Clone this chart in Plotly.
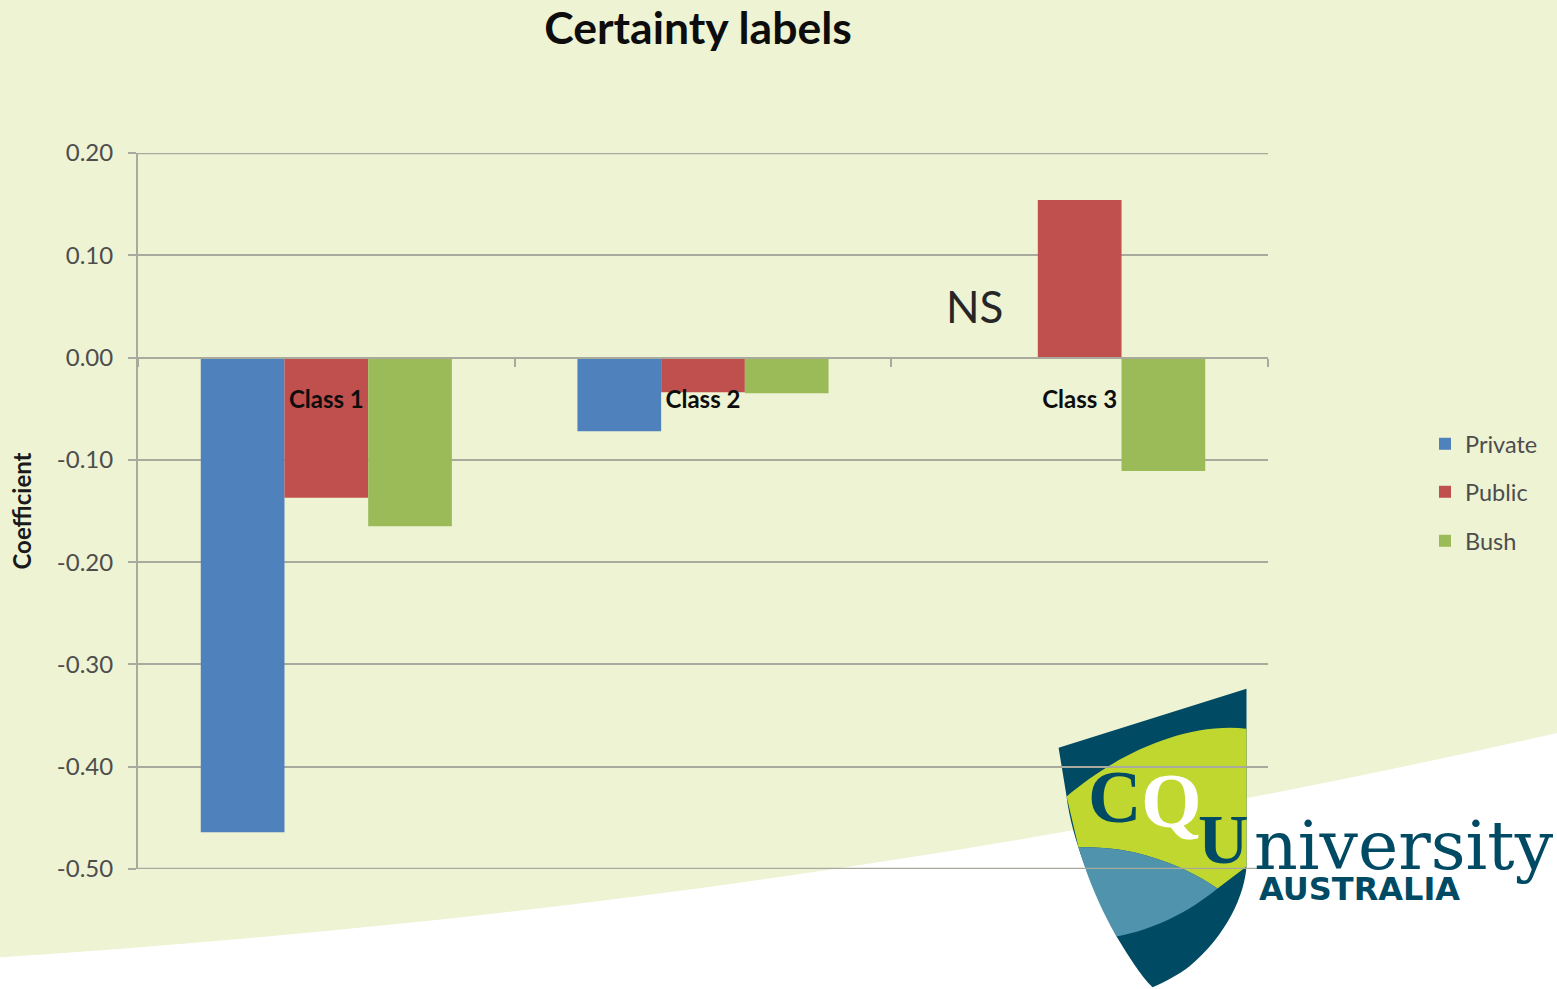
import plotly.graph_objects as go

W, H = 1557, 989
LEFT, RIGHT, TOP, BOTTOM = 138, 1268.5, 152.5, 869.5

classes = ["Class 1", "Class 2", "Class 3"]
private = [-0.464, -0.072, None]
public = [-0.137, -0.034, 0.154]
bush = [-0.165, -0.035, -0.111]
y_ticks = [0.2, 0.1, 0.0, -0.1, -0.2, -0.3, -0.4, -0.5]
y_tick_labels = ["0.20", "0.10", "0.00", "-0.10", "-0.20", "-0.30", "-0.40", "-0.50"]
y_min, y_max = -0.5, 0.2

BG = "#eef3d4"
GRID = "#a8aa9e"
TEAL = "#004a63"
LIME = "#c0d72f"
LAKE = "#4f93ad"
FONT = "Lato"
SERIF = "Liberation Serif"


def px(x):
    return (x - LEFT) / (RIGHT - LEFT)


def py(y):
    return (BOTTOM - y) / (BOTTOM - TOP)


def path(commands):
    """Build an SVG path in paper units from (letter, x1, y1, ...) tuples in page pixels."""
    parts = []
    for cmd in commands:
        letter, coords = cmd[0], cmd[1:]
        pairs = [
            f"{px(coords[i]):.5f},{py(coords[i + 1]):.5f}"
            for i in range(0, len(coords), 2)
        ]
        parts.append(letter + " ".join(pairs))
    return " ".join(parts) + " Z"


def backdrop(commands, colour):
    return dict(
        type="path", xref="paper", yref="paper", layer="below",
        path=path(commands), fillcolor=colour, line=dict(width=0),
    )


def edge_rule(value):
    # Plotly drops gridlines at the ends of the range, so the outer two are drawn here
    return dict(
        type="line", xref="paper", yref="y", x0=0, x1=1, y0=value, y1=value,
        layer="above", line=dict(color=GRID, width=2.5),
    )


shapes = [
    # Pale page background with its sweeping lower edge
    backdrop(
        [("M", -2, -2), ("L", W + 2, -2), ("L", W + 2, 733),
         ("C", 1000, 860, 500, 925, -2, 958)],
        BG,
    ),
    # Shield outline
    backdrop(
        [("M", 1059, 748), ("L", 1247, 689), ("L", 1247, 867),
         ("C", 1245, 895, 1228, 935, 1190, 967),
         ("C", 1180, 975, 1165, 983, 1153, 988),
         ("C", 1140, 975, 1128, 955, 1117, 937),
         ("C", 1095, 895, 1072, 840, 1067, 797)],
        TEAL,
    ),
    # Lime band of the shield
    backdrop(
        [("M", 1067, 797), ("C", 1110, 760, 1180, 722, 1247, 729),
         ("L", 1247, 867), ("L", 1218, 889),
         ("C", 1175, 860, 1125, 846, 1079, 848)],
        LIME,
    ),
    # Lower blue wedge of the shield
    backdrop(
        [("M", 1079, 848), ("C", 1125, 846, 1175, 860, 1218, 889),
         ("C", 1190, 912, 1155, 930, 1117, 937),
         ("C", 1100, 908, 1088, 878, 1079, 848)],
        LAKE,
    ),
    edge_rule(y_max),
    edge_rule(y_min),
]


def label(text, x, y, size, colour, family=FONT, bold=False):
    return dict(
        text=f"<b>{text}</b>" if bold else text,
        x=px(x), y=py(y),
        xref="paper", yref="paper", showarrow=False,
        xanchor="center", yanchor="middle",
        font=dict(family=family, size=size, color=colour),
    )


def legend_row(y):
    # Each series keeps its own one-row legend so the rows can sit far apart
    return dict(
        x=1425 / W, xref="container", xanchor="left",
        y=1 - y / H, yref="container", yanchor="middle",
        bgcolor="rgba(0,0,0,0)",
        font=dict(family=FONT, size=23.5, color="#4d4d4d"),
    )


annotations = [
    label("NS", 975, 306, 44, "#262626"),
    label("C", 1115, 797, 74, TEAL, SERIF, bold=True),
    label("Q", 1172, 801, 78, "#ffffff", SERIF, bold=True),
    label("U", 1224, 840, 70, TEAL, SERIF, bold=True),
    label("niversity", 1405, 846, 68, TEAL, "DejaVu Serif"),
    label("AUSTRALIA", 1360, 890, 32, TEAL, "DejaVu Sans", bold=True),
]

fig = go.Figure()
for name, values, colour, legend_id in [
    ("Private", private, "#4f81bd", "legend"),
    ("Public", public, "#c0504d", "legend2"),
    ("Bush", bush, "#9bbb59", "legend3"),
]:
    fig.add_bar(
        name=name, x=classes, y=values, legend=legend_id, showlegend=True,
        marker=dict(color=colour, line=dict(width=0)),
    )

fig.update_layout(
    width=W, height=H,
    autosize=False,
    margin=dict(l=LEFT, r=W - RIGHT, t=TOP, b=H - BOTTOM, pad=0),
    paper_bgcolor="#ffffff",
    plot_bgcolor="rgba(0,0,0,0)",
    barmode="group",
    bargap=1 / 3,
    bargroupgap=0,
    showlegend=True,
    title=dict(
        text="<b>Certainty labels</b>",
        x=698 / W, xref="container", xanchor="center",
        y=1 - 28 / H, yref="container", yanchor="middle",
        font=dict(family=FONT, size=44.5, color="#0d0d0d"),
    ),
    font=dict(family=FONT),
    shapes=shapes,
    annotations=annotations,
    legend=legend_row(444),
    legend2=legend_row(492),
    legend3=legend_row(541),
    xaxis=dict(
        anchor="free",
        position=(0 - y_min) / (y_max - y_min),
        showline=True, linecolor=GRID, linewidth=2,
        showgrid=False, zeroline=False,
        ticks="outside", ticklen=8, tickcolor=GRID, tickwidth=1.5,
        tickson="boundaries",
        ticklabelstandoff=21,
        tickfont=dict(family=FONT, size=24, color="#0d0d0d", weight="bold"),
        automargin=False,
    ),
    yaxis=dict(
        range=[y_min, y_max],
        tickvals=y_ticks, ticktext=y_tick_labels,
        showline=True, linecolor=GRID, linewidth=2,
        showgrid=True, gridcolor=GRID, gridwidth=2,
        zeroline=False,
        ticks="outside", ticklen=8, tickcolor=GRID, tickwidth=2,
        ticklabelstandoff=10,
        tickfont=dict(family=FONT, size=24, color="#4d4d4d"),
        title=dict(
            text="<b>Coefficient</b>", standoff=18,
            font=dict(family=FONT, size=24, color="#1a1a1a"),
        ),
        automargin=False,
    ),
)

fig.write_html("out.html")
